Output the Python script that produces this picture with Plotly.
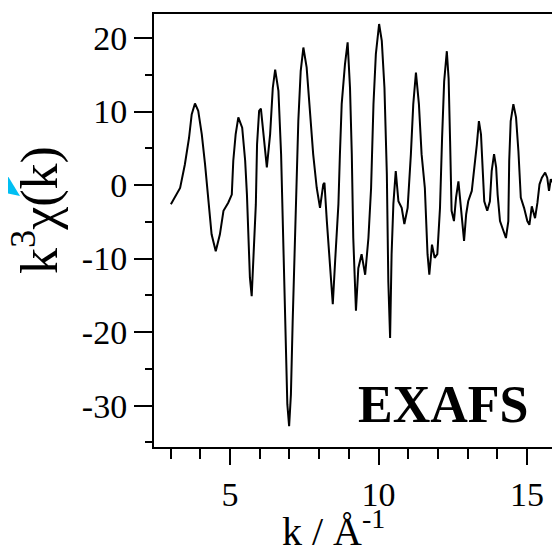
import plotly.graph_objects as go

# ---- data ----
k_values = [3.01, 3.32, 3.48, 3.62, 3.71, 3.82, 3.93, 4.05, 4.16, 4.27, 4.38, 4.52, 4.66, 4.78,
            4.94, 5.06, 5.11, 5.19, 5.28, 5.41, 5.51, 5.57, 5.67, 5.73, 5.80, 5.87, 5.91, 5.98,
            6.04, 6.12, 6.24, 6.35, 6.44, 6.52, 6.63, 6.72, 6.77, 6.83, 6.89, 6.93, 6.99, 7.05,
            7.11, 7.17, 7.22, 7.30, 7.38, 7.47, 7.58, 7.69, 7.80, 7.92, 8.03, 8.14, 8.18, 8.26,
            8.34, 8.46, 8.54, 8.65, 8.70, 8.76, 8.87, 8.96, 9.04, 9.10, 9.15, 9.24, 9.32, 9.43,
            9.55, 9.66, 9.75, 9.83, 9.91, 10.02, 10.11, 10.20, 10.28, 10.33, 10.39, 10.44, 10.50,
            10.58, 10.67, 10.78, 10.87, 10.98, 11.09, 11.17, 11.26, 11.36, 11.45, 11.56, 11.65,
            11.71, 11.80, 11.89, 11.98, 12.07, 12.14, 12.21, 12.30, 12.36, 12.41, 12.46, 12.54,
            12.61, 12.69, 12.77, 12.84, 12.88, 12.95, 13.02, 13.14, 13.22, 13.31, 13.38, 13.45,
            13.51, 13.56, 13.66, 13.75, 13.81, 13.89, 13.96, 14.01, 14.09, 14.20, 14.29, 14.37,
            14.40, 14.45, 14.54, 14.63, 14.71, 14.79, 14.90, 15.01, 15.08, 15.16, 15.27, 15.35,
            15.42, 15.50, 15.61, 15.68, 15.74, 15.80, 15.89, 15.98]
chi_values = [-2.6, -0.4, 2.8, 6.4, 9.6, 11.1, 10.1, 6.9, 2.8, -2.2, -6.7, -9.0, -6.7, -3.5,
              -2.4, -1.3, 3.3, 6.9, 9.2, 7.8, 3.3, -1.3, -12.6, -15.1, -9.4, -2.6, 5.5, 10.1,
              10.4, 6.9, 2.4, 6.9, 13.2, 15.7, 12.8, 4.2, -4.9, -14.0, -23.0, -29.8, -32.8, -28.5,
              -18.5, -9.4, -0.4, 8.7, 15.5, 18.7, 16.0, 9.6, 4.2, -0.4, -3.1, 0.1, 0.3, -4.9,
              -9.4, -16.2, -10.3, -2.6, 4.2, 11.0, 16.4, 19.4, 13.2, 4.2, -7.2, -17.1, -11.3, -9.4,
              -12.2, -7.2, -0.4, 11.0, 17.8, 21.9, 19.6, 13.2, 1.5, -13.1, -20.8, -9.4, -2.6,
              1.9, -2.2, -3.1, -5.3, -3.1, 4.2, 11.0, 15.3, 11.0, 4.2, -0.4, -9.4,
              -12.2, -8.1, -9.9, -9.4, -3.1, 6.4, 14.1, 18.2, 14.5, 6.0, -3.5, -4.9,
              -1.7, 0.5, -3.1, -6.7, -7.6, -4.0, -2.2, -0.8, 1.9, 5.5, 8.7, 6.9,
              1.9, -2.2, -3.5, -2.2, 1.9, 4.2, 2.4, -1.3, -4.9, -6.3, -7.2, -4.9,
              3.3, 8.7, 11.0, 9.2, 4.6, -1.7, -3.1, -4.9, -5.4, -2.9, -4.5, -2.4,
              0.1, 1.0, 1.7, 1.0, -0.8, 0.8, 0.1, -0.4]

x_tick_vals = [5, 10, 15]
x_tick_text = ["5", "10", "15"]
y_tick_vals = [20, 10, 0, -10, -20, -30]
y_tick_text = ["20", "10", "0", "-10", "-20", "-30"]

y_title = "k<sup>3</sup>χ(k)"
x_title = "k / Å<sup>-1</sup>"
panel_label = "<b>EXAFS</b>"

# ---- layout geometry (window pixels; the page body adds an 8px offset) ----
OFF = 8
W, H = 560 - OFF, 550 - OFF
PLOT_LEFT, PLOT_TOP, PLOT_BOTTOM = 154, 14, 447
L = PLOT_LEFT - OFF
T = PLOT_TOP - OFF
B = H - (PLOT_BOTTOM - OFF)
R = 0
PW, PH = W - L - R, H - T - B


def px(x):
    return (x - OFF - L) / PW


def py(y):
    return (H - B - (y - OFF)) / PH


FONT = "Liberation Serif"

fig = go.Figure()
fig.add_trace(go.Scatter(x=k_values, y=chi_values, mode="lines",
                         line=dict(color="black", width=2), showlegend=False))

fig.update_layout(
    width=W, height=H,
    margin=dict(l=L, r=R, t=T, b=B, autoexpand=False),
    paper_bgcolor="white", plot_bgcolor="white",
    font=dict(family=FONT, color="black"),
    showlegend=False,
)
fig.update_xaxes(
    range=[2.441, 16.11], showgrid=False, zeroline=False,
    showline=True, linecolor="black", linewidth=2, mirror=True,
    ticks="outside", ticklen=16, tickwidth=2, tickcolor="black",
    tickvals=x_tick_vals, ticktext=x_tick_text,
    tickfont=dict(family=FONT, size=34, color="black"),
    minor=dict(dtick=1, tick0=0, ticks="outside", ticklen=10, tickwidth=1.5, tickcolor="black"),
    automargin=False,
)
fig.update_yaxes(
    range=[-35.62, 23.26], showgrid=False, zeroline=False,
    showline=True, linecolor="black", linewidth=2, mirror=False,
    ticks="outside", ticklen=18, tickwidth=2, tickcolor="black",
    tickvals=y_tick_vals, ticktext=y_tick_text,
    tickfont=dict(family=FONT, size=34, color="black"),
    minor=dict(dtick=5, tick0=0, ticks="outside", ticklen=7, tickwidth=1.5, tickcolor="black"),
    automargin=False,
)

fig.add_annotation(text=y_title, xref="paper", yref="paper", x=px(36), y=py(210),
                   showarrow=False, textangle=-90, xanchor="center", yanchor="middle",
                   font=dict(family=FONT, size=52, color="black"))
fig.add_annotation(text=x_title, xref="paper", yref="paper", x=px(333), y=py(528),
                   showarrow=False, xanchor="center", yanchor="middle",
                   font=dict(family=FONT, size=40, color="black"))
fig.add_annotation(text=panel_label, xref="paper", yref="paper", x=px(443), y=py(404),
                   showarrow=False, xanchor="center", yanchor="middle",
                   font=dict(family=FONT, size=52, color="black"))

# cyan arrowhead at the left edge
path = "M {:.4f},{:.4f} L {:.4f},{:.4f} L {:.4f},{:.4f} Z".format(
    px(0), py(163), px(20), py(196), px(0), py(192))
fig.add_shape(type="path", path=path, xref="paper", yref="paper",
              fillcolor="#00BFF3", line=dict(width=0), layer="above")

fig.write_html("out.html")
